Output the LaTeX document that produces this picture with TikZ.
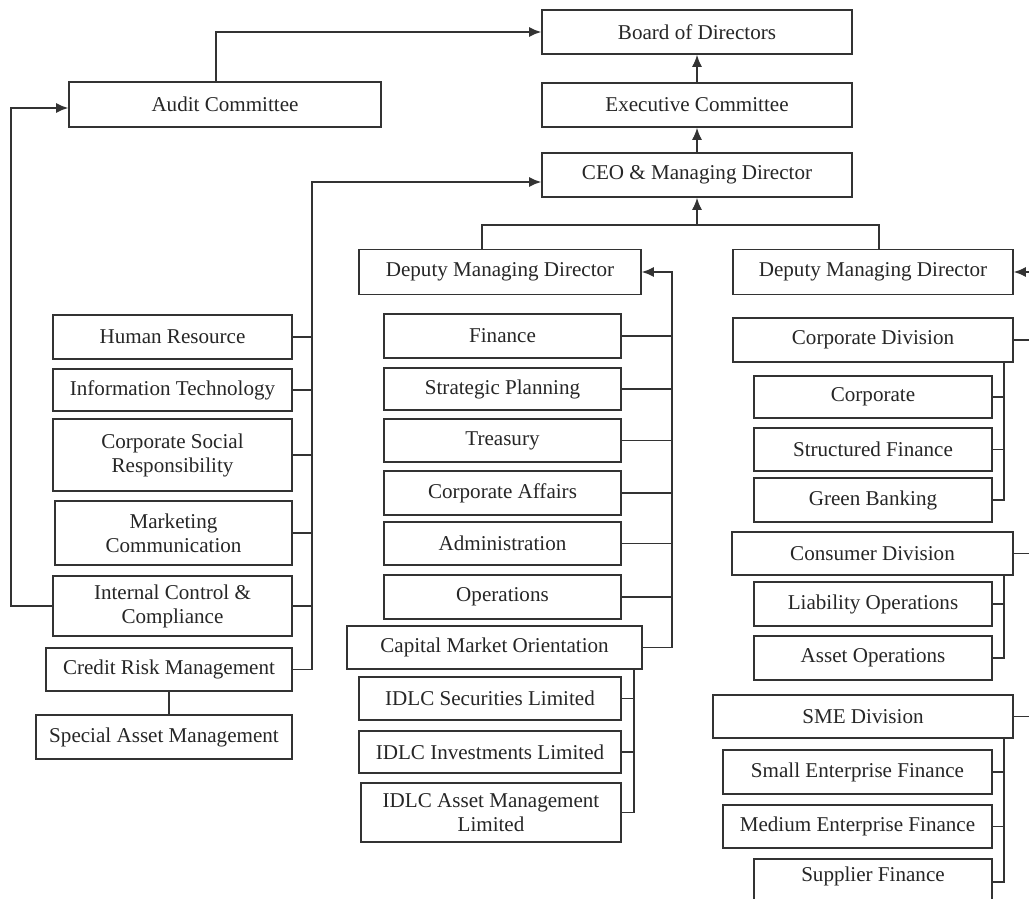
\documentclass[tikz,border=0pt]{standalone}
\usepackage{fontspec}
\setmainfont{Liberation Serif}
\usetikzlibrary{positioning, arrows.meta, calc}

\begin{document}
\begin{tikzpicture}[
    x=0.02cm, y=-0.02cm,
    % ====================
    % ESTILOS
    % ====================
    unit/.style={
        rectangle, draw=black!80, line width=0.9pt, fill=white,
        align=center, font=\fontsize{12}{13.7}\selectfont, text=black!85,
        minimum height=0.86cm, inner sep=2pt
    },
    line/.style={
        line width=0.9pt, draw=black!80, -{Latex[length=2.4mm, width=2mm]}
    },
    link/.style={
        line width=0.9pt, draw=black!80
    }
]

\useasboundingbox (0,0) rectangle (1029,899);

% ====================
% DIRECCION
% ====================
\node[unit, minimum width=6.2cm, minimum height=0.88cm] (board) at (697,32) {Board of Directors};
\node[unit, minimum width=6.2cm, minimum height=0.88cm] (exec) at (697,105) {Executive Committee};
\node[unit, minimum width=6.2cm, minimum height=0.88cm] (ceo) at (697,175) {CEO \& Managing Director};
\node[unit, minimum width=6.24cm, minimum height=0.9cm] (audit) at (225,104.5) {Audit Committee};

\node[unit, minimum width=5.64cm, minimum height=0.9cm] (dmdA) at (500,272) {Deputy Managing Director};
\node[unit, minimum width=5.6cm, minimum height=0.9cm] (dmdB) at (873,272) {Deputy Managing Director};

% ====================
% COLUMNA IZQUIERDA
% ====================
\node[unit, minimum width=4.78cm, minimum height=0.88cm] (hr) at (172.5,337) {Human Resource};
\node[unit, minimum width=4.78cm, minimum height=0.84cm] (it) at (172.5,390) {Information Technology};
\node[unit, minimum width=4.78cm, minimum height=1.44cm] (csr) at (172.5,455) {Corporate Social\\Responsibility};
\node[unit, minimum width=4.74cm, minimum height=1.28cm] (mc) at (173.5,533) {Marketing\\Communication};
\node[unit, minimum width=4.78cm, minimum height=1.2cm] (icc) at (172.5,606) {Internal Control \&\\Compliance};
\node[unit, minimum width=4.92cm] (crm) at (169,669.5) {Credit Risk Management};
\node[unit, minimum width=5.12cm, minimum height=0.88cm] (sam) at (164,737) {Special Asset Management};

% ====================
% COLUMNA CENTRAL
% ====================
\node[unit, minimum width=4.74cm, minimum height=0.88cm] (fin) at (502.5,336) {Finance};
\node[unit, minimum width=4.74cm, minimum height=0.84cm] (sp) at (502.5,389) {Strategic Planning};
\node[unit, minimum width=4.74cm] (tre) at (502.5,440.5) {Treasury};
\node[unit, minimum width=4.74cm, minimum height=0.88cm] (ca) at (502.5,493) {Corporate Affairs};
\node[unit, minimum width=4.74cm] (adm) at (502.5,543.5) {Administration};
\node[unit, minimum width=4.74cm, minimum height=0.88cm] (ops) at (502.5,597) {Operations};
\node[unit, minimum width=5.9cm] (cmo) at (494.5,647.5) {Capital Market Orientation};
\node[unit, minimum width=5.24cm] (isec) at (490,698.5) {IDLC Securities Limited};
\node[unit, minimum width=5.24cm, minimum height=0.84cm] (iinv) at (490,752) {IDLC Investments Limited};
\node[unit, minimum width=5.2cm, minimum height=1.18cm] (iam) at (491,812.5) {IDLC Asset Management\\Limited};

% ====================
% COLUMNA DERECHA
% ====================
\node[unit, minimum width=5.6cm, minimum height=0.88cm] (corpdiv) at (873,340) {Corporate Division};
\node[unit, minimum width=4.76cm, minimum height=0.84cm] (corp) at (873,397) {Corporate};
\node[unit, minimum width=4.76cm] (sf) at (873,449.5) {Structured Finance};
\node[unit, minimum width=4.76cm, minimum height=0.88cm] (gb) at (873,500) {Green Banking};
\node[unit, minimum width=5.62cm] (consdiv) at (872.5,553.5) {Consumer Division};
\node[unit, minimum width=4.76cm, minimum height=0.88cm] (lo) at (873,604) {Liability Operations};
\node[unit, minimum width=4.76cm, minimum height=0.88cm] (ao) at (873,658) {Asset Operations};
\node[unit, minimum width=6.0cm] (sme) at (863,716.5) {SME Division};
\node[unit, minimum width=5.38cm, minimum height=0.88cm] (sef) at (857.5,772) {Small Enterprise Finance};
\node[unit, minimum width=5.38cm] (mef) at (857.5,826.5) {Medium Enterprise Finance};
\node[unit, minimum width=4.76cm, minimum height=0.92cm, text depth=0.3cm] (supf) at (873,882) {Supplier Finance};

% ====================
% CONEXIONES
% ====================

% Cadena superior
\draw[line] (exec.north) -- (board.south);
\draw[line] (ceo.north) -- (exec.south);
\draw[line] ([xshift=-0.18cm]audit.north) |- (board.west);

% Adjuntos al CEO
\coordinate (cj) at ($(ceo.south)+(0,-0.54cm)$);
\draw[line] (cj) -- (ceo.south);
\draw[link] ([xshift=-0.36cm]dmdA.north) |- (cj) -| ([xshift=0.12cm]dmdB.north);

% Columna izquierda hacia el CEO
\draw[line] (crm.east) -- ++(0.38cm,0) |- ([yshift=-0.14cm]ceo.west);
\draw[link] (hr.east) -- ++(0.38cm,0);
\draw[link] (it.east) -- ++(0.38cm,0);
\draw[link] (csr.east) -- ++(0.38cm,0);
\draw[link] (mc.east) -- ++(0.38cm,0);
\draw[link] (icc.east) -- ++(0.38cm,0);
\draw[link] (crm.south) -- (crm.south |- sam.north);

% Control interno hacia auditoria
\draw[line] (icc.west) -- ++(-0.82cm,0) |- ([yshift=-0.07cm]audit.west);

% Columna central hacia DMD
\draw[line] (cmo.east) -- ++(0.58cm,0) |- (dmdA.east);
\draw[link] (fin.east) -- ++(1.0cm,0);
\draw[link] (sp.east) -- ++(1.0cm,0);
\draw[link] (tre.east) -- ++(1.0cm,0);
\draw[link] (ca.east) -- ++(1.0cm,0);
\draw[link] (adm.east) -- ++(1.0cm,0);
\draw[link] (ops.east) -- ++(1.0cm,0);

% Empresas IDLC
\draw[link] ([xshift=-0.18cm]cmo.south east) |- (iam.east);
\draw[link] (isec.east) -- ++(0.24cm,0);
\draw[link] (iinv.east) -- ++(0.24cm,0);

% Columna derecha hacia DMD
\draw[line] (sme.east) -- ++(0.4cm,0) |- (dmdB.east);
\draw[link] (corpdiv.east) -- ++(0.4cm,0);
\draw[link] (consdiv.east) -- ++(0.4cm,0);

% Divisiones
\draw[link] ([xshift=-0.2cm]corpdiv.south east) |- (gb.east);
\draw[link] (corp.east) -- ++(0.22cm,0);
\draw[link] (sf.east) -- ++(0.22cm,0);
\draw[link] ([xshift=-0.2cm]consdiv.south east) |- (ao.east);
\draw[link] (lo.east) -- ++(0.22cm,0);
\draw[link] ([xshift=-0.2cm]sme.south east) |- (supf.east);
\draw[link] (sef.east) -- ++(0.22cm,0);
\draw[link] (mef.east) -- ++(0.22cm,0);

\end{tikzpicture}
\end{document}
